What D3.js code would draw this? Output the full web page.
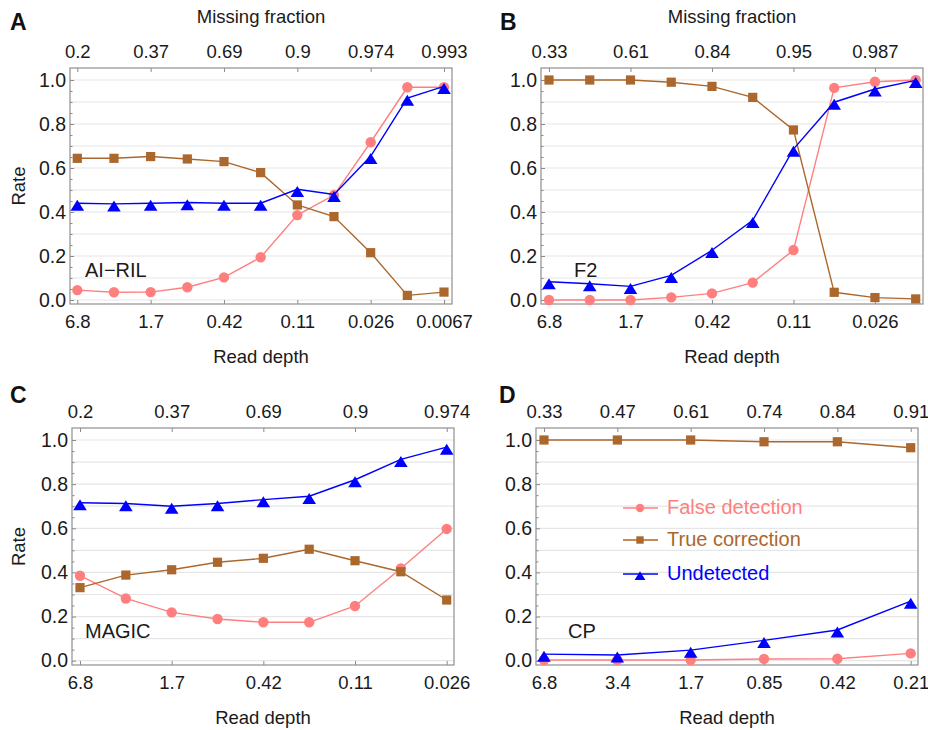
<!DOCTYPE html>
<html><head><meta charset="utf-8">
<script src="https://cdn.jsdelivr.net/npm/d3@7"></script>
<style>body{margin:0;background:#fff;} svg text{font-family:"Liberation Sans",Arial,sans-serif;}</style>
</head><body><svg id="c" width="928" height="730"></svg>
<script>
// ---------------- DATA ----------------
// Panel A (AI-RIL)
const depthA = ["6.8","3.4","1.7","0.85","0.42","0.21","0.11","0.053","0.026","0.013","0.0067"];
const depthTicksA = ["6.8","1.7","0.42","0.11","0.026","0.0067"];
const missingA = ["0.2","0.37","0.69","0.9","0.974","0.993"];
const falseA = [0.045,0.035,0.036,0.058,0.103,0.194,0.386,0.477,0.717,0.967,0.967];
const trueA  = [0.644,0.644,0.652,0.641,0.629,0.579,0.432,0.379,0.215,0.021,0.036];
const undetA = [0.44,0.437,0.44,0.443,0.44,0.44,0.503,0.48,0.653,0.918,0.971];
// Panel B (F2)
const depthB = ["6.8","3.4","1.7","0.85","0.42","0.21","0.11","0.053","0.026","0.013"];
const depthTicksB = ["6.8","1.7","0.42","0.11","0.026"];
const missingB = ["0.33","0.61","0.84","0.95","0.987"];
const falseB = [0.0,0.0,0.0,0.012,0.03,0.079,0.227,0.964,0.992,1.0];
const trueB  = [1.0,1.0,1.0,0.99,0.971,0.921,0.773,0.035,0.011,0.005];
const undetB = [0.083,0.074,0.062,0.112,0.226,0.362,0.686,0.899,0.959,0.998];
// Panel C (MAGIC)
const depthC = ["6.8","3.4","1.7","0.85","0.42","0.21","0.11","0.053","0.026"];
const depthTicksC = ["6.8","1.7","0.42","0.11","0.026"];
const missingC = ["0.2","0.37","0.69","0.9","0.974"];
const falseC = [0.385,0.282,0.219,0.189,0.174,0.174,0.248,0.418,0.597];
const trueC  = [0.331,0.388,0.412,0.446,0.464,0.505,0.453,0.403,0.275];
const undetC = [0.716,0.712,0.70,0.712,0.73,0.745,0.82,0.912,0.968];
// Panel D (CP)
const depthD = ["6.8","3.4","1.7","0.85","0.42","0.21"];
const depthTicksD = ["6.8","3.4","1.7","0.85","0.42","0.21"];
const missingD = ["0.33","0.47","0.61","0.74","0.84","0.91"];
const falseD = [0.003,0.003,0.003,0.008,0.009,0.033];
const trueD  = [1.0,1.0,1.0,0.992,0.992,0.965];
const undetD = [0.03,0.026,0.048,0.092,0.139,0.27];

const seriesNames = ["False detection","True correction","Undetected"];
const yTicks = [0,0.2,0.4,0.6,0.8,1.0];

// ---------------- STYLE / LAYOUT ----------------
const colors = ["#ff7f7f","#ab672c","#0000ff"];
const shapes = ["circle","square","triangle"];
const panels = [
  {letter:"A", name:"AI\u2212RIL", depths:depthA, ticks:depthTicksA, missing:missingA, vals:[falseA,trueA,undetA],
   frame:[70,452,68,304], dx:[77.3,444], yr:[300,80], topTitle:true, rate:true, nameX:85, nameY:277, letterX:10, letterY:30},
  {letter:"B", name:"F2", depths:depthB, ticks:depthTicksB, missing:missingB, vals:[falseB,trueB,undetB],
   frame:[541,923,68,304], dx:[549,915.7], yr:[300,80], topTitle:true, rate:false, nameX:574, nameY:277, letterX:500, letterY:30},
  {letter:"C", name:"MAGIC", depths:depthC, ticks:depthTicksC, missing:missingC, vals:[falseC,trueC,undetC],
   frame:[72,454,428,665], dx:[80,446.7], yr:[660.7,440], topTitle:false, rate:true, nameX:85, nameY:638, letterX:10, letterY:403},
  {letter:"D", name:"CP", depths:depthD, ticks:depthTicksD, missing:missingD, vals:[falseD,trueD,undetD],
   frame:[536,918,428,665], dx:[544,910.7], yr:[660.7,440], topTitle:false, rate:false, nameX:568, nameY:638, letterX:499, letterY:403, legend:true}
];

const svg = d3.select("#c");
const FONT = "'Liberation Sans', Arial, sans-serif";
const tickCol = "#8a8a8a";

function marker(g, shape, x, y, color, s) {
  s = s || 1;
  if (shape === "circle") {
    g.append("circle").attr("cx", x).attr("cy", y).attr("r", 5.2*s).attr("fill", color);
  } else if (shape === "square") {
    const h = 4.6*s;
    g.append("rect").attr("x", x-h).attr("y", y-h).attr("width", 2*h).attr("height", 2*h).attr("fill", color);
  } else {
    const w = 6.8*s;
    g.append("path").attr("d", `M${x},${y-3.4*s}L${x+w},${y+7.6*s}L${x-w},${y+7.6*s}Z`).attr("fill", color);
  }
}

panels.forEach(p => {
  const [fx0, fx1, fy0, fy1] = p.frame;
  const x = d3.scalePoint().domain(p.depths).range(p.dx);
  const y = d3.scaleLinear().domain([0,1]).range(p.yr);
  const g = svg.append("g");

  // gridlines
  g.append("g").selectAll("line").data(d3.range(0, 11).map(i => i/10)).join("line")
    .attr("x1", fx0).attr("x2", fx1).attr("y1", d => y(d)).attr("y2", d => y(d))
    .attr("stroke", "#e6e6e6").attr("stroke-width", 1.2);

  // left axis (major)
  const la = g.append("g").attr("transform", `translate(${fx0},0)`)
    .call(d3.axisLeft(y).tickValues(yTicks).tickFormat(d3.format(".1f")).tickSize(-4).tickPadding(4));
  // left axis minor
  const lm = g.append("g").attr("transform", `translate(${fx0},0)`)
    .call(d3.axisLeft(y).tickValues(d3.range(0, 21).map(i => i/20).filter(v => Math.round(v*100) % 20 !== 0)).tickFormat("").tickSize(-2.5));
  // bottom axis
  const ba = g.append("g").attr("transform", `translate(0,${fy1})`)
    .call(d3.axisBottom(x).tickValues(p.ticks).tickSize(-4).tickPadding(11));
  // top axis
  const ta = g.append("g").attr("transform", `translate(0,${fy0})`)
    .call(d3.axisTop(x).tickValues(p.ticks).tickFormat((d, i) => p.missing[i]).tickSize(-4).tickPadding(10));

  [la, lm, ba, ta].forEach(a => {
    a.select(".domain").remove();
    a.attr("font-size", 18.5).attr("font-family", FONT);
    a.selectAll("line").attr("stroke", tickCol);
    a.selectAll("text").attr("fill", "#1a1a1a");
  });
  la.attr("font-size", 19.5);

  // frame
  g.append("rect").attr("x", fx0).attr("y", fy0).attr("width", fx1-fx0).attr("height", fy1-fy0)
    .attr("fill", "none").attr("stroke", "#8f8f8f").attr("stroke-width", 1.2);

  // series
  p.vals.forEach((vals, si) => {
    const line = d3.line().x((d, i) => x(p.depths[i])).y(d => y(d));
    g.append("path").datum(vals).attr("d", line).attr("fill", "none")
      .attr("stroke", colors[si]).attr("stroke-width", 1.4);
    const mg = g.append("g");
    vals.forEach((v, i) => marker(mg, shapes[si], x(p.depths[i]), y(v), colors[si]));
  });

  // panel name
  g.append("text").attr("x", p.nameX).attr("y", p.nameY).attr("font-size", 20)
    .attr("fill", "#1a1a1a").text(p.name);
  // panel letter
  g.append("text").attr("x", p.letterX).attr("y", p.letterY).attr("font-size", 23)
    .attr("font-weight", "bold").attr("fill", "#111").text(p.letter);
  // titles
  const cx = (fx0 + fx1) / 2;
  if (p.topTitle) g.append("text").attr("x", cx).attr("y", 23).attr("text-anchor", "middle")
    .attr("font-size", 18.5).attr("fill", "#1a1a1a").text("Missing fraction");
  g.append("text").attr("x", cx).attr("y", fy1 + 59).attr("text-anchor", "middle")
    .attr("font-size", 18.5).attr("fill", "#1a1a1a").text("Read depth");
  if (p.rate) g.append("text").attr("transform", `translate(25,${(fy0+fy1)/2}) rotate(-90)`)
    .attr("text-anchor", "middle").attr("font-size", 18.5).attr("fill", "#1a1a1a").text("Rate");

  // legend
  if (p.legend) {
    const ly = [508, 540, 574];
    seriesNames.forEach((n, i) => {
      const lg = g.append("g");
      lg.append("line").attr("x1", 623).attr("x2", 658).attr("y1", ly[i]).attr("y2", ly[i])
        .attr("stroke", colors[i]).attr("stroke-width", 1.4);
      marker(lg, shapes[i], 640, ly[i], colors[i], 0.8);
      lg.append("text").attr("x", 667).attr("y", ly[i] + 6).attr("font-size", 20)
        .attr("fill", colors[i]).text(n);
    });
  }
});
</script></body></html>
